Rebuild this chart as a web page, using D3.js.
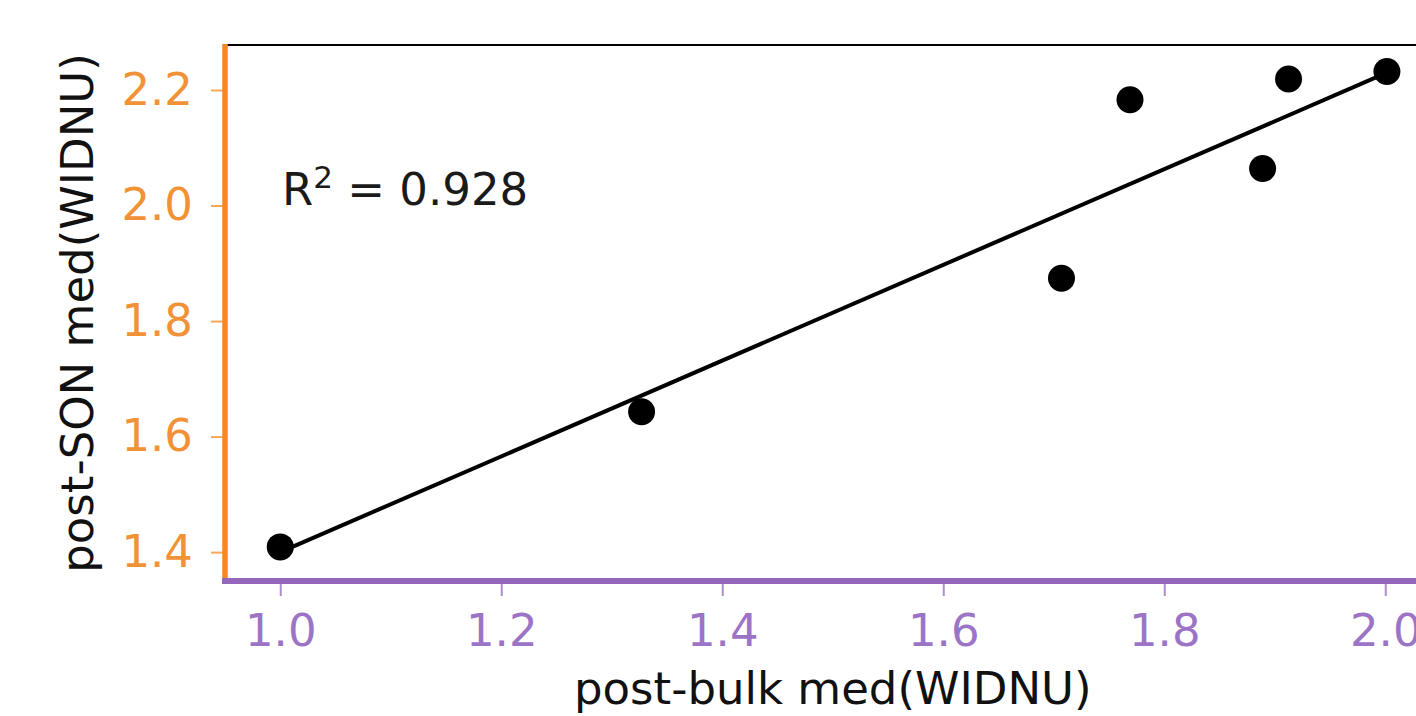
<!DOCTYPE html>
<html>
<head>
<meta charset="utf-8">
<script src="https://cdn.jsdelivr.net/npm/d3@7"></script>
<style>
  html, body { margin: 0; padding: 0; background: #fff; overflow: hidden; }
  svg { display: block; font-family: "DejaVu Sans", sans-serif; }
</style>
</head>
<body>
<svg id="chart" width="1416" height="716"></svg>
<script>
// ---- data ----
const bulkMed = [1.0, 1.327, 1.707, 1.769, 1.889, 1.9125, 2.0015];
const sonMed  = [1.409, 1.643, 1.874, 2.183, 2.064, 2.219, 2.232];
const fitX = [1.0, 2.0015];
const fitY = [1.400, 2.230];
const xTicks = [1.0, 1.2, 1.4, 1.6, 1.8, 2.0];
const yTicks = [1.4, 1.6, 1.8, 2.0, 2.2];
const xDomain = [0.95, 2.05];
const yDomain = [1.35, 2.2779];
const xTitle = "post-bulk med(WIDNU)";
const yTitle = "post-SON med(WIDNU)";
const r2Value = "0.928";

(function () {
// ---- layout ----
const mLeft = 225, mRight = 1440.5, mTop = 45, mBottom = 581;
const orange = "#f5891f", orangeText = "#f29237";
const purple = "#9467bd", purpleText = "#9b74c6";
const fontSize = 45;

const svg = d3.select("#chart");
const x = d3.scaleLinear().domain(xDomain).range([mLeft, mRight]);
const y = d3.scaleLinear().domain(yDomain).range([mBottom, mTop]);

// top spine
svg.append("line").attr("x1", mLeft).attr("x2", mRight).attr("y1", mTop).attr("y2", mTop)
  .attr("stroke", "#000").attr("stroke-width", 2);

// fit line
const pts = fitX.map((v, i) => [x(v), y(fitY[i])]);
svg.append("path").attr("d", d3.line()(pts))
  .attr("fill", "none").attr("stroke", "#000").attr("stroke-width", 4);

// points
svg.append("g").selectAll("circle").data(bulkMed).join("circle")
  .attr("cx", d => x(d)).attr("cy", (d, i) => y(sonMed[i]))
  .attr("r", 13.5).attr("fill", "#000");

// y axis
const gy = svg.append("g").attr("transform", `translate(${mLeft},0)`)
  .call(d3.axisLeft(y).tickValues(yTicks).tickFormat(d3.format(".1f")).tickSize(14).tickPadding(18));
gy.select(".domain").remove();
gy.selectAll(".tick line").attr("stroke", orange).attr("stroke-width", 2).attr("opacity", 0.75);
gy.selectAll(".tick text").attr("fill", orangeText).attr("font-size", fontSize)
  .attr("font-family", "DejaVu Sans");

// x axis
const gx = svg.append("g").attr("transform", `translate(0,${mBottom})`)
  .call(d3.axisBottom(x).tickValues(xTicks).tickFormat(d3.format(".1f")).tickSize(15).tickPadding(18));
gx.select(".domain").remove();
gx.selectAll(".tick line").attr("stroke", purple).attr("stroke-width", 2).attr("opacity", 0.75);
gx.selectAll(".tick text").attr("fill", purpleText).attr("font-size", fontSize)
  .attr("font-family", "DejaVu Sans");

// spines (colored)
svg.append("line").attr("x1", mLeft).attr("x2", mLeft).attr("y1", mTop - 1).attr("y2", mBottom + 3)
  .attr("stroke", orange).attr("stroke-width", 5.5);
svg.append("line").attr("x1", mLeft - 3).attr("x2", mRight).attr("y1", mBottom).attr("y2", mBottom)
  .attr("stroke", purple).attr("stroke-width", 6);

// axis titles
svg.append("text").attr("x", (mLeft + mRight) / 2).attr("y", 704)
  .attr("text-anchor", "middle").attr("font-size", fontSize).attr("fill", "#111")
  .text(xTitle);
svg.append("text").attr("transform", `translate(93,${(mTop + mBottom) / 2}) rotate(-90)`)
  .attr("text-anchor", "middle").attr("font-size", fontSize).attr("fill", "#111")
  .text(yTitle);

// R^2 annotation
const ann = svg.append("text").attr("x", 282).attr("y", 205)
  .attr("font-size", fontSize).attr("fill", "#1a1a1a");
ann.append("tspan").text("R");
ann.append("tspan").attr("font-size", 31).attr("dy", -17).text("2");
ann.append("tspan").attr("dy", 17).text(" = " + r2Value);
})();
</script>
</body>
</html>
